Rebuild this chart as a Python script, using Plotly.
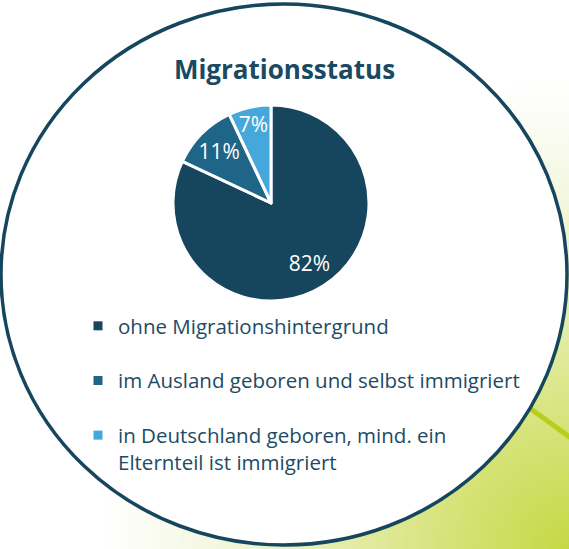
import base64
import plotly.graph_objects as go

# ---- data ----
labels = [
    "ohne Migrationshintergrund",
    "im Ausland geboren und selbst immigriert",
    "in Deutschland geboren, mind. ein<br>Elternteil ist immigriert",
]
values = [82, 11, 7]
colors = ["#16455e", "#1e6588", "#45a7da"]
title_text = "Migrationsstatus"

W, H = 569, 549
FONT = "Open Sans"
TXT = "#1d4b64"

def px_x(x):
    return x / W

def px_y(y):
    return 1 - y / H

# background gradient (svg data uri)
svg = f"""<svg xmlns='http://www.w3.org/2000/svg' width='{W}' height='{H}' viewBox='0 0 {W} {H}'>
<defs><radialGradient id='g' gradientUnits='userSpaceOnUse' cx='{W}' cy='{H}' r='470'>
<stop offset='0' stop-color='#c5d843'/>
<stop offset='0.45' stop-color='#e2eba2'/>
<stop offset='0.75' stop-color='#f4f7df'/>
<stop offset='1' stop-color='#ffffff'/>
</radialGradient></defs>
<rect width='{W}' height='{H}' fill='url(#g)'/></svg>"""
uri = "data:image/svg+xml;base64," + base64.b64encode(svg.encode()).decode()

cx, cy, r = 271, 203, 98
pie_domain = dict(x=[px_x(cx - r), px_x(cx + r)], y=[px_y(cy + r), px_y(cy - r)])

fig = go.Figure()
# slices
fig.add_trace(go.Pie(
    labels=labels,
    values=values,
    sort=False,
    direction="clockwise",
    rotation=0,
    marker=dict(colors=colors, line=dict(color="white", width=3)),
    textinfo="none",
    showlegend=False,
    hoverinfo="label+percent",
    domain=pie_domain,
))
# percentage labels (same data, placed on a ring so they sit further out)
fig.add_trace(go.Pie(
    labels=labels,
    values=values,
    sort=False,
    direction="clockwise",
    rotation=0,
    hole=0.46,
    marker=dict(colors=["rgba(0,0,0,0)"] * len(values), line=dict(width=0)),
    texttemplate="%{value}%",
    textposition="inside",
    insidetextorientation="horizontal",
    textfont=dict(family=FONT, size=21, color="white"),
    showlegend=False,
    hoverinfo="skip",
    domain=pie_domain,
))

for lab, col in zip(labels, colors):
    fig.add_trace(go.Scatter(
        x=[None], y=[None], mode="markers", name=lab, legendgroup=lab,
        marker=dict(symbol="square", size=9, color=col),
        showlegend=True,
    ))

fig.update_layout(
    width=W, height=H,
    margin=dict(l=0, r=0, t=0, b=0),
    paper_bgcolor="white",
    plot_bgcolor="rgba(0,0,0,0)",
    xaxis=dict(visible=False),
    yaxis=dict(visible=False),
    uniformtext=dict(minsize=21, mode="show"),
    title=dict(
        text=f"<b>{title_text}</b>",
        x=0.5, xanchor="center",
        y=px_y(70), yanchor="middle", yref="container",
        font=dict(family=FONT, size=26, color="#1a4a63"),
    ),
    legend=dict(
        x=px_x(78), xanchor="left",
        y=px_y(306), yanchor="top",
        font=dict(family=FONT, size=20.5, color=TXT),
        traceorder="grouped",
        tracegroupgap=25,
        valign="top",
        bgcolor="rgba(0,0,0,0)",
        itemclick=False,
    ),
    images=[dict(
        source=uri, xref="paper", yref="paper", x=0, y=1,
        sizex=1, sizey=1, xanchor="left", yanchor="top",
        sizing="stretch", layer="below",
    )],
    shapes=[
        dict(type="line", xref="paper", yref="paper",
             x0=px_x(520), y0=px_y(401), x1=px_x(575), y1=px_y(441),
             line=dict(color="#b8ce1a", width=5), layer="below"),
        dict(type="circle", xref="paper", yref="paper",
             x0=px_x(1), x1=px_x(567), y0=px_y(545), y1=px_y(4),
             fillcolor="white", line=dict(color="#16455e", width=3.5),
             layer="below"),
    ],
)

fig.write_html(
    "out.html",
    config={"displayModeBar": False},
    post_script="document.body.style.margin='0';document.body.style.overflow='hidden';",
)
